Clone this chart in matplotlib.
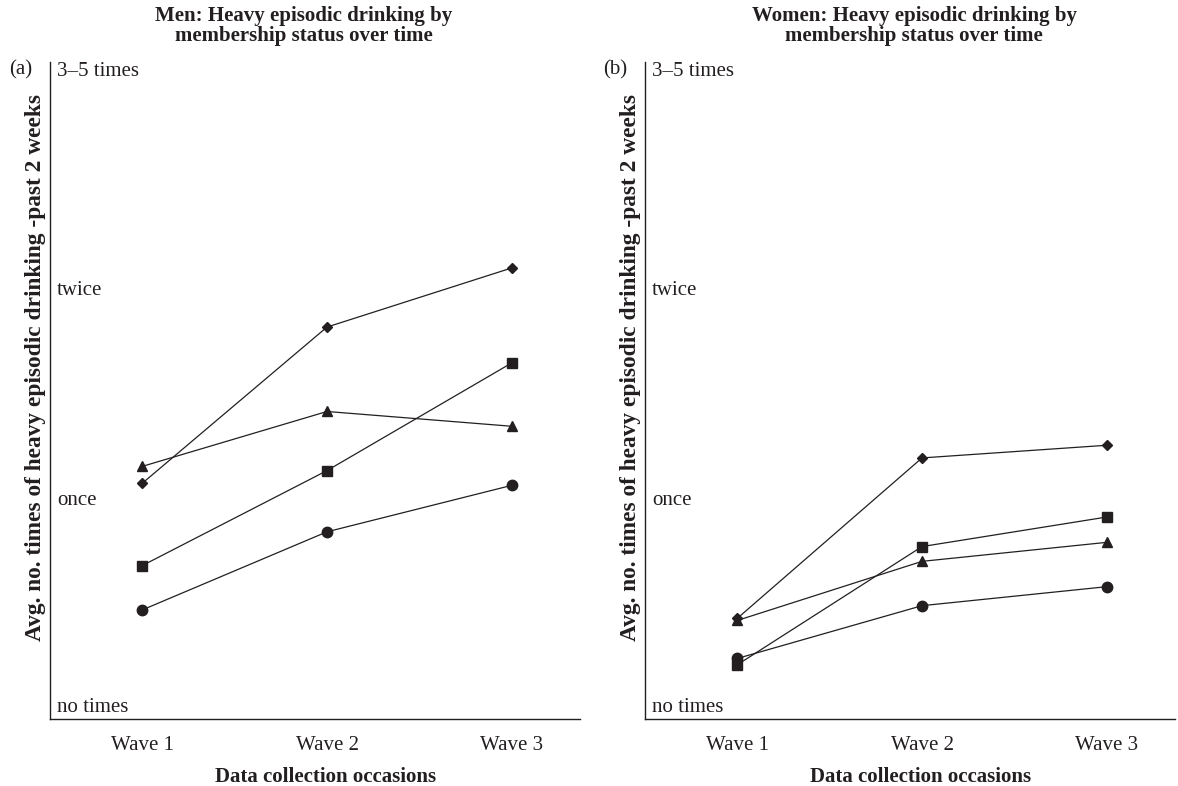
import numpy as np
import matplotlib
matplotlib.use('Agg')
import matplotlib.pyplot as plt

plt.rcParams['font.family'] = ['Liberation Serif', 'DejaVu Serif']

# data (0 = no times, 1 = once, 2 = twice, 3 = 3-5 times)
waves = ['Wave 1', 'Wave 2', 'Wave 3']
level_labels = ['no times', 'once', 'twice', '3\u20135 times']
level_values = [0.01, 0.99, 1.985, 3.02]

men_diamond = [1.07, 1.81, 2.09]
men_triangle = [1.15, 1.41, 1.34]
men_square = [0.68, 1.13, 1.64]
men_circle = [0.47, 0.84, 1.06]

women_diamond = [0.43, 1.19, 1.25]
women_square = [0.21, 0.77, 0.91]
women_triangle = [0.42, 0.70, 0.79]
women_circle = [0.24, 0.49, 0.58]

ink = '#231f20'

fig = plt.figure(figsize=(11.78, 7.86), dpi=100)
ax1 = fig.add_axes([0.0424, 0.0852, 0.450, 0.836])
ax2 = fig.add_axes([0.5475, 0.0852, 0.450, 0.836])


def draw_panel(ax, series, title, tag, title_x):
    x = np.arange(len(waves))
    for vals, mk, ms in series:
        ax.plot(x, vals, color=ink, lw=0.9, marker=mk, markersize=ms,
                markerfacecolor=ink, markeredgecolor=ink)
    ax.set_xlim(-0.5, 2.37)
    ax.set_ylim(-0.047, 3.066)
    ax.set_xticks(x)
    ax.set_xticklabels(waves, fontsize=15)
    ax.set_yticks([])
    ax.tick_params(axis='x', length=0, pad=12, colors=ink)
    for s in ['top', 'right']:
        ax.spines[s].set_visible(False)
    for s in ['left', 'bottom']:
        ax.spines[s].set_color(ink)
        ax.spines[s].set_linewidth(1.0)
    for lab, v in zip(level_labels, level_values):
        ax.text(0.013, v, lab, transform=ax.get_yaxis_transform(),
                va='center', ha='left', fontsize=15, color=ink)
    ax.set_xlabel('Data collection occasions', fontsize=15, fontweight='bold',
                  color=ink, labelpad=9, x=0.52)
    ax.set_ylabel('Avg. no. times of heavy episodic drinking -past 2 weeks',
                  fontsize=16.8, fontweight='bold', color=ink, labelpad=3,
                  y=0.535)
    fig.text(title_x, 0.967, title, ha='center', va='center', fontsize=15,
             fontweight='bold', color=ink, linespacing=0.95)
    ax.text(-0.034, 3.03, tag, transform=ax.get_yaxis_transform(),
            va='center', ha='right', fontsize=15, color=ink)


draw_panel(ax1, [(men_diamond, 'D', 5.5), (men_triangle, '^', 7.5),
                 (men_square, 's', 7.5), (men_circle, 'o', 7.5)],
           'Men: Heavy episodic drinking by\nmembership status over time', '(a)',
           0.258)
draw_panel(ax2, [(women_diamond, 'D', 5.5), (women_square, 's', 7.5),
                 (women_triangle, '^', 7.5), (women_circle, 'o', 7.5)],
           'Women: Heavy episodic drinking by\nmembership status over time', '(b)',
           0.776)

fig.savefig('out.png', dpi=100)
